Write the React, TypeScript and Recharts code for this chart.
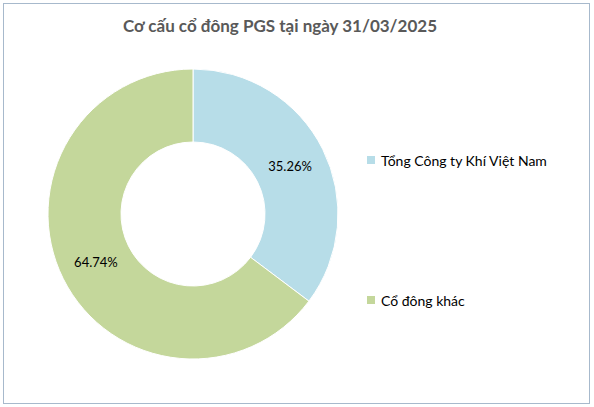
import React from "react";
import { Cell, Legend, Pie, PieChart } from "recharts";

const shareholders = ["Tổng Công ty Khí Việt Nam", "Cổ đông khác"];
const shares = [35.26, 64.74];
const sliceColors = ["#b7dde8", "#c4d79b"];

const chartData = shareholders.map((name, i) => ({ name, value: shares[i] }));

const RADIAN = Math.PI / 180;

function renderLabel(props: any) {
  const { cx, cy, midAngle, innerRadius, outerRadius, value } = props;
  const r = (innerRadius + outerRadius) / 2;
  const x = cx + r * Math.cos(-midAngle * RADIAN);
  const y = cy + r * Math.sin(-midAngle * RADIAN);
  return (
    <text
      x={x}
      y={y}
      textAnchor="middle"
      dominantBaseline="central"
      fill="#000"
      fontSize={13}
      fontFamily="Lato, 'Open Sans', sans-serif"
    >
      {value.toFixed(2)}%
    </text>
  );
}

function LegendBox() {
  return (
    <div style={{ fontFamily: "Lato, 'Open Sans', sans-serif", fontSize: 14, color: "#000" }}>
      {shareholders.map((name, i) => (
        <div
          key={name}
          style={{ display: "flex", alignItems: "center", height: 20, marginBottom: i === 0 ? 120 : 0 }}
        >
          <span
            style={{ width: 8, height: 8, background: sliceColors[i], display: "inline-block", marginRight: 6 }}
          />
          {name}
        </div>
      ))}
    </div>
  );
}

export default function App() {
  return (
    <div style={{ position: "absolute", left: 0, top: 0, width: 594, height: 407, background: "#fff" }}>
      <div
        style={{
          position: "absolute",
          left: 3,
          top: 3,
          width: 585,
          height: 399,
          border: "1px solid #a7b9cc",
        }}
      />
      <div
        style={{
          position: "absolute",
          left: 0,
          width: 560,
          top: 15,
          textAlign: "center",
          fontFamily: "Lato, 'Open Sans', sans-serif",
          fontWeight: 700,
          fontSize: 17,
          color: "#595959",
        }}
      >
        Cơ cấu cổ đông PGS tại ngày 31/03/2025
      </div>
      <PieChart
        width={594}
        height={407}
        margin={{ top: 0, right: 0, bottom: 0, left: 0 }}
        style={{ position: "absolute", left: 0, top: 0 }}
      >
        <Pie
          data={chartData}
          dataKey="value"
          nameKey="name"
          cx={193}
          cy={214}
          innerRadius={72}
          outerRadius={145}
          startAngle={90}
          endAngle={-270}
          stroke="#fff"
          strokeWidth={1}
          label={renderLabel}
          labelLine={false}
          isAnimationActive={false}
        >
          {chartData.map((d, i) => (
            <Cell key={d.name} fill={sliceColors[i]} />
          ))}
        </Pie>
        <Legend
          content={<LegendBox />}
          wrapperStyle={{ position: "absolute", left: 367, top: 150, width: 220 }}
        />
      </PieChart>
    </div>
  );
}
